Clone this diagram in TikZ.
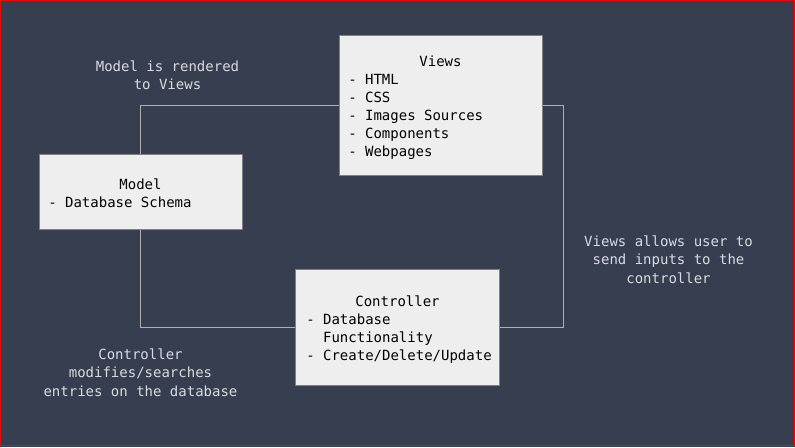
\documentclass[tikz,border=0pt]{standalone}
\usepackage{fontspec}
\setmonofont{DejaVu Sans Mono}
\definecolor{bg}{HTML}{363E4F}
\definecolor{lbl}{HTML}{D8DCE2}
\definecolor{boxfill}{HTML}{EEEEEE}
\definecolor{boxline}{HTML}{808080}
\definecolor{wire}{HTML}{B0B0B0}
\definecolor{frame}{HTML}{FF0000}
\begin{document}
\begin{tikzpicture}[x=0.75pt,y=-0.75pt,
  every node/.style={font=\ttfamily\fontsize{10.5pt}{13.5pt}\selectfont, inner sep=0pt},
  box/.style={draw=boxline, fill=boxfill, line width=0.75pt},
  boxtext/.style={text=black, anchor=base west, align=left},
  boxtitle/.style={text=black, anchor=base},
  note/.style={text=lbl, anchor=base, align=center},
  wire/.style={draw=wire, line width=0.75pt}]
\useasboundingbox (0,0) rectangle (795,447);
\fill[bg] (0,0) rectangle (795,447);
\draw[frame, line width=0.75pt] (0.5,0.5) rectangle (794.5,445.5);

% boxes
\node[box, minimum width=203*0.75pt, minimum height=75*0.75pt] (model) at (140.5,191.5) {};
\node[box, minimum width=203*0.75pt, minimum height=140*0.75pt] (views) at (440.5,105) {};
\node[box, minimum width=204*0.75pt, minimum height=116*0.75pt] (controller) at (397,327) {};

% connectors
\coordinate (vr) at (563,105);
\draw[wire] (model.north) |- (views.west);
\draw[wire] (views.east) -- (vr) |- (controller.east);
\draw[wire] (controller.west) -| (model.south);

% box texts
\node[boxtitle] (vt) at (440.5,66) {Views};
\node[boxtext] (vl1) at (348,84) {- HTML};
\node[boxtext] (vl2) at (348,102) {- CSS};
\node[boxtext] (vl3) at (348,120) {- Images Sources};
\node[boxtext] (vl4) at (348,138) {- Components};
\node[boxtext] (vl5) at (348,156) {- Webpages};

\node[boxtitle] (mt) at (140.5,189) {Model};
\node[boxtext] (ml1) at (48,207) {- Database Schema};

\node[boxtitle] (ct) at (397.5,306) {Controller};
\node[boxtext] (cl1) at (306,324) {- Database};
\node[boxtext] (cl2) at (306,342) {\ \ Functionality};
\node[boxtext] (cl3) at (306,360) {- Create/Delete/Update};

% notes
\node[note] (n1a) at (167.5,71) {Model is rendered};
\node[note] (n1b) at (167.5,89) {to Views};
\node[note] (n2a) at (668.5,246) {Views allows user to};
\node[note] (n2b) at (668.5,264) {send inputs to the};
\node[note] (n2c) at (668.5,283) {controller};
\node[note] (n3a) at (140.5,359) {Controller};
\node[note] (n3b) at (140.5,377) {modifies/searches};
\node[note] (n3c) at (140.5,396) {entries on the database};
\end{tikzpicture}
\end{document}
